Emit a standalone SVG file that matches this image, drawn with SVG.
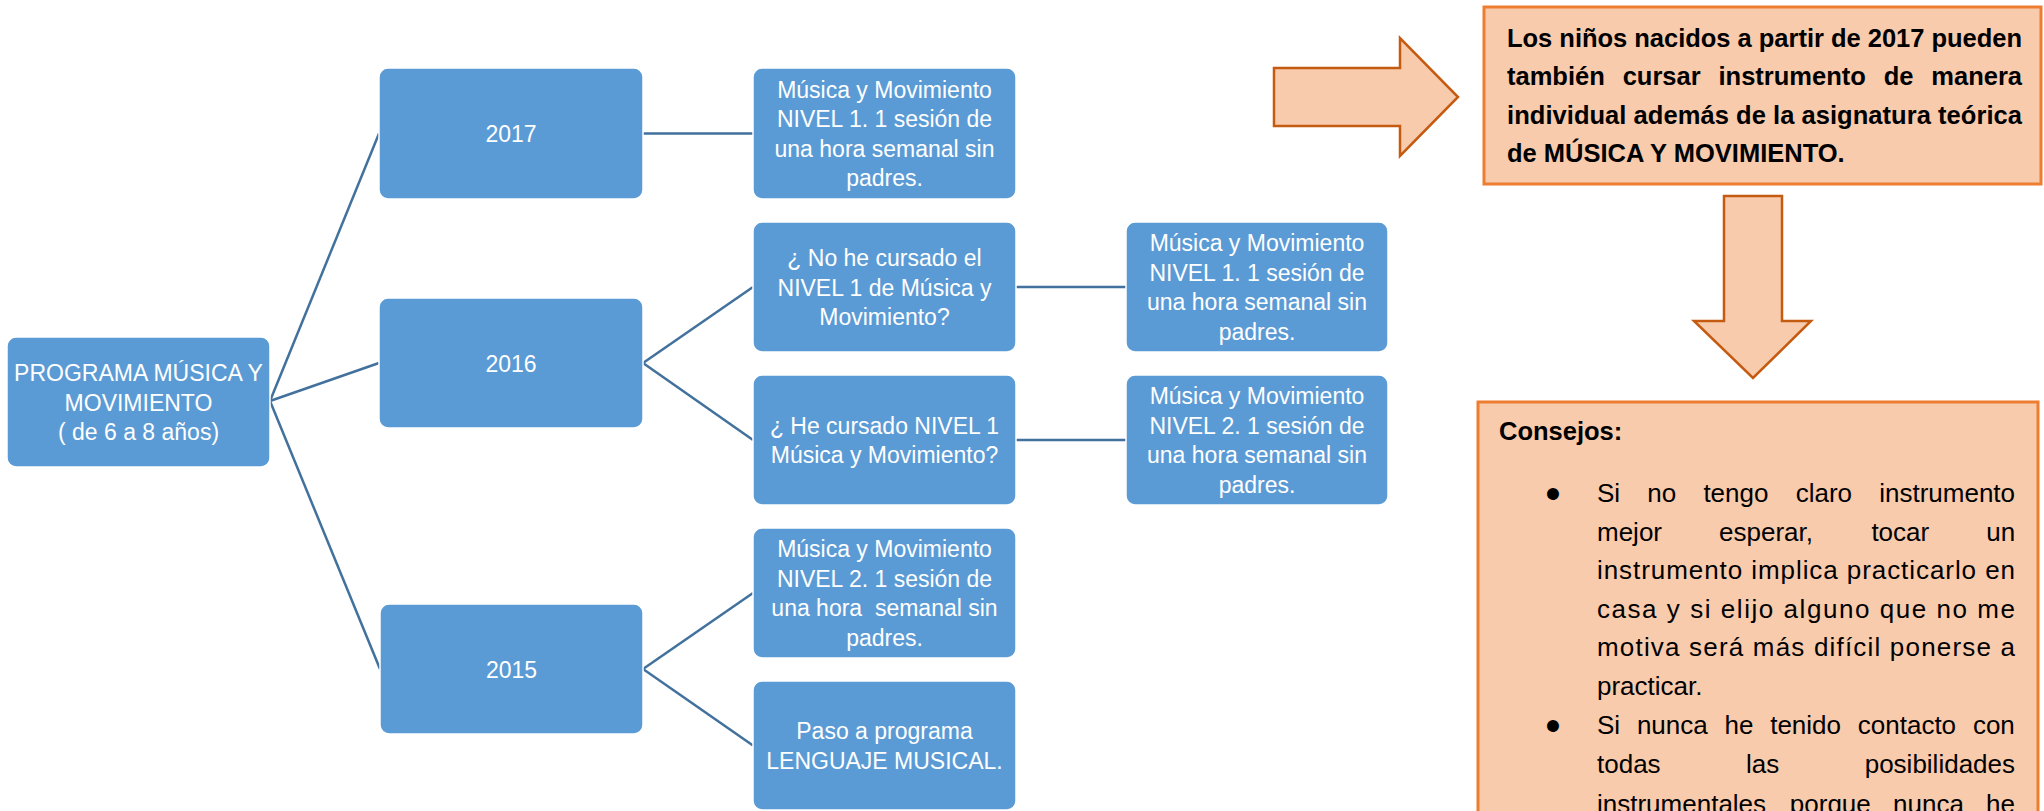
<svg xmlns="http://www.w3.org/2000/svg" width="2044" height="811" viewBox="0 0 2044 811">
<style>
  .box { fill: #5B9BD5; stroke: #FFFFFF; stroke-width: 1.5; }
  .bt { font-family: "Liberation Sans", Arial, sans-serif; font-size: 23px; fill: #FFFFFF; text-anchor: middle; }
  .conn line { stroke: #41719C; stroke-width: 2.5; fill: none; }
  .arrow { fill: #F8CBAD; stroke: #C55A11; stroke-width: 2.5; stroke-linejoin: miter; }
  .note { fill: #F8CBAD; stroke: #ED7D31; stroke-width: 3; }
  .nb { font-family: "Liberation Sans", Arial, sans-serif; font-size: 25.5px; font-weight: bold; fill: #000000; }
  .nt { font-family: "Liberation Sans", Arial, sans-serif; font-size: 26px; fill: #000000; }
  .bul { font-family: "Liberation Sans", Arial, sans-serif; font-size: 44px; fill: #000000; text-anchor: middle; }
</style>
<rect width="2044" height="811" fill="#FFFFFF"/>

<g id="connectors" class="conn">
  <line x1="270" y1="401" x2="379" y2="133.5"/>
  <line x1="270" y1="401" x2="379" y2="363"/>
  <line x1="270" y1="401" x2="380" y2="669"/>
  <line x1="643" y1="133.5" x2="753" y2="133.5"/>
  <line x1="643" y1="363" x2="753" y2="287"/>
  <line x1="643" y1="363" x2="753" y2="440"/>
  <line x1="643" y1="669" x2="753" y2="593"/>
  <line x1="643" y1="669" x2="753" y2="745.5"/>
  <line x1="1016" y1="287" x2="1126" y2="287"/>
  <line x1="1016" y1="440" x2="1126" y2="440"/>
</g>

<g id="node-root">
  <rect class="box" x="7" y="337" width="263" height="130" rx="9"/>
  <text class="bt"><tspan x="138.5" y="381">PROGRAMA MÚSICA Y</tspan><tspan x="138.5" y="410.5">MOVIMIENTO</tspan><tspan x="138.5" y="440">( de 6 a 8 años)</tspan></text>
</g>

<g id="node-2017">
  <rect class="box" x="379" y="68" width="264" height="131" rx="9"/>
  <text class="bt" x="511" y="142">2017</text>
</g>
<g id="node-2016">
  <rect class="box" x="379" y="298" width="264" height="130" rx="9"/>
  <text class="bt" x="511" y="371.5">2016</text>
</g>
<g id="node-2015">
  <rect class="box" x="380" y="604" width="263" height="130" rx="9"/>
  <text class="bt" x="511.5" y="677.5">2015</text>
</g>

<g id="node-2017-n1">
  <rect class="box" x="753" y="68" width="263" height="131" rx="9"/>
  <text class="bt"><tspan x="884.5" y="97.5">Música y Movimiento</tspan><tspan x="884.5" y="127">NIVEL 1. 1 sesión de</tspan><tspan x="884.5" y="156.5">una hora semanal sin</tspan><tspan x="884.5" y="186">padres.</tspan></text>
</g>
<g id="node-q-no">
  <rect class="box" x="753" y="222" width="263" height="130" rx="9"/>
  <text class="bt"><tspan x="884.5" y="266">¿ No he cursado el</tspan><tspan x="884.5" y="295.5">NIVEL 1 de Música y</tspan><tspan x="884.5" y="325">Movimiento?</tspan></text>
</g>
<g id="node-q-si">
  <rect class="box" x="753" y="375" width="263" height="130" rx="9"/>
  <text class="bt"><tspan x="884.5" y="433.5">¿ He cursado NIVEL 1</tspan><tspan x="884.5" y="463">Música y Movimiento?</tspan></text>
</g>
<g id="node-2015-n2">
  <rect class="box" x="753" y="528" width="263" height="130" rx="9"/>
  <text class="bt" xml:space="preserve"><tspan x="884.5" y="557">Música y Movimiento</tspan><tspan x="884.5" y="586.5">NIVEL 2. 1 sesión de</tspan><tspan x="884.5" y="616">una hora  semanal sin</tspan><tspan x="884.5" y="645.5">padres.</tspan></text>
</g>
<g id="node-lenguaje">
  <rect class="box" x="753" y="681" width="263" height="129" rx="9"/>
  <text class="bt"><tspan x="884.5" y="739">Paso a programa</tspan><tspan x="884.5" y="768.5">LENGUAJE MUSICAL.</tspan></text>
</g>
<g id="node-no-n1">
  <rect class="box" x="1126" y="222" width="262" height="130" rx="9"/>
  <text class="bt"><tspan x="1257" y="251">Música y Movimiento</tspan><tspan x="1257" y="280.5">NIVEL 1. 1 sesión de</tspan><tspan x="1257" y="310">una hora semanal sin</tspan><tspan x="1257" y="339.5">padres.</tspan></text>
</g>
<g id="node-si-n2">
  <rect class="box" x="1126" y="375" width="262" height="130" rx="9"/>
  <text class="bt"><tspan x="1257" y="404">Música y Movimiento</tspan><tspan x="1257" y="433.5">NIVEL 2. 1 sesión de</tspan><tspan x="1257" y="463">una hora semanal sin</tspan><tspan x="1257" y="492.5">padres.</tspan></text>
</g>

<g id="arrow-right">
  <polygon class="arrow" points="1274,68 1400,68 1400,38 1458,97 1400,156 1400,126 1274,126"/>
</g>

<g id="node-note">
  <rect class="note" x="1484" y="7" width="557" height="177"/>
  <text class="nb" x="1507" y="46.5" textLength="515" lengthAdjust="spacing">Los niños nacidos a partir de 2017 pueden</text>
  <text class="nb" y="85"><tspan x="1507">también</tspan> <tspan x="1622.7">cursar</tspan> <tspan x="1718.5">instrumento</tspan> <tspan x="1883.7">de</tspan> <tspan x="1931.3">manera</tspan></text>
  <text class="nb" x="1507" y="123.5" textLength="515" lengthAdjust="spacing">individual además de la asignatura teórica</text>
  <text class="nb" x="1507" y="162">de MÚSICA Y MOVIMIENTO.</text>
</g>

<g id="arrow-down">
  <polygon class="arrow" points="1724,196 1782,196 1782,321 1811,321 1753,378 1694,321 1724,321"/>
</g>

<g id="node-consejos">
  <rect class="note" x="1478" y="402" width="560" height="440"/>
  <text class="nb" x="1499" y="440">Consejos:</text>
  <text class="bul" x="1553" y="509">•</text>
  <text class="nt" y="502"><tspan x="1597">Si</tspan> <tspan x="1647.3">no</tspan> <tspan x="1703.4">tengo</tspan> <tspan x="1795.7">claro</tspan> <tspan x="1879.2">instrumento</tspan></text>
  <text class="nt" y="540.5"><tspan x="1597">mejor</tspan> <tspan x="1719">esperar,</tspan> <tspan x="1871.4">tocar</tspan> <tspan x="1986.2">un</tspan></text>
  <text class="nt" x="1597" y="579" textLength="418" lengthAdjust="spacing">instrumento implica practicarlo en</text>
  <text class="nt" x="1597" y="617.5" textLength="418" lengthAdjust="spacing">casa y si elijo alguno que no me</text>
  <text class="nt" x="1597" y="656" textLength="418" lengthAdjust="spacing">motiva será más difícil ponerse a</text>
  <text class="nt" x="1597" y="694.5">practicar.</text>
  <text class="bul" x="1553" y="741">•</text>
  <text class="nt" y="734"><tspan x="1597">Si</tspan> <tspan x="1636.9">nunca</tspan> <tspan x="1724.5">he</tspan> <tspan x="1770.2">tenido</tspan> <tspan x="1857.8">contacto</tspan> <tspan x="1972.9">con</tspan></text>
  <text class="nt" y="772.5"><tspan x="1597">todas</tspan> <tspan x="1746">las</tspan> <tspan x="1864.7">posibilidades</tspan></text>
  <text class="nt" y="813"><tspan x="1597">instrumentales</tspan> <tspan x="1789.8">porque</tspan> <tspan x="1893">nunca</tspan> <tspan x="1986.1">he</tspan></text>
</g>
</svg>
